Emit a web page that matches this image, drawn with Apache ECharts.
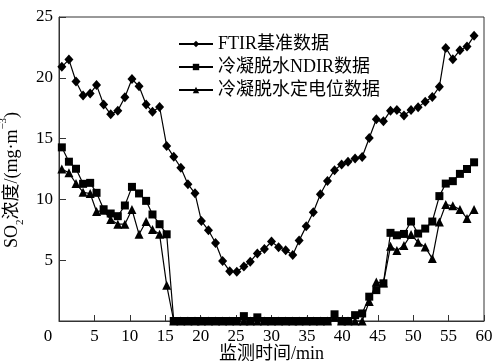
<!DOCTYPE html>
<html>
<head>
<meta charset="utf-8">
<script src="https://cdn.jsdelivr.net/npm/echarts@6/dist/echarts.min.js"></script>
<style>
  html, body { margin: 0; padding: 0; background: #fff; }
  #main { width: 497px; height: 364px; }
</style>
</head>
<body>
<div id="main"></div>
<script>
// sampling times (min)
var times = [0.4, 1.4, 2.4, 3.4, 4.4, 5.3, 6.3, 7.3, 8.3, 9.3,
  10.3, 11.3, 12.3, 13.2, 14.2, 15.2, 16.2, 17.2, 18.2, 19.2,
  20.1, 21.1, 22.1, 23.1, 24.1, 25.1, 26.1, 27.0, 28.0, 29.0,
  30.0, 31.0, 32.0, 33.0, 33.9, 34.9, 35.9, 36.9, 37.9, 38.9,
  39.9, 40.8, 41.8, 42.8, 43.8, 44.8, 45.8, 46.8, 47.7, 48.7,
  49.7, 50.7, 51.7, 52.7, 53.7, 54.6, 55.6, 56.6, 57.6, 58.6];

var ftir = [20.9, 21.5, 19.7, 18.55, 18.7, 19.4, 17.8, 17.0, 17.3, 18.4,
  19.9, 19.3, 17.8, 17.2, 17.6, 14.4, 13.5, 12.6, 11.25, 10.5,
  8.23, 7.46, 6.41, 4.93, 4.1, 4.05, 4.49, 4.88, 5.56, 5.92,
  6.53, 6.06, 5.81, 5.42, 6.61, 7.79, 8.94, 10.43, 11.52, 12.4,
  12.88, 13.09, 13.37, 13.48, 15.05, 16.59, 16.42, 17.3, 17.35, 16.9,
  17.35, 17.57, 18.04, 18.42, 19.27, 22.46, 21.53, 22.27, 22.57, 23.45];

var ndir = [14.28, 13.1, 12.52, 11.28, 11.36, 10.54, 9.19, 8.84, 8.62, 9.5,
  11.03, 10.49, 9.88, 8.76, 7.96, 7.13, 0, 0, 0, 0,
  0, 0, 0, 0, 0, 0, 0.4, 0, 0.3, 0,
  0, 0, 0, 0, 0, 0, 0, 0, 0, 0.55,
  0, 0, 0.48, 0.62, 2.0, 2.54, 3.1, 7.25, 7.05, 7.16,
  8.18, 7.19, 7.6, 8.18, 10.27, 11.3, 11.5, 12.1, 12.5, 13.05];

var dianwei = [12.49, 12.19, 11.31, 10.59, 10.48, 9.0, 9.1, 8.34, 7.96, 7.96,
  9.17, 7.13, 8.18, 7.52, 7.13, 2.95, 0, 0, 0, 0,
  0, 0, 0, 0, 0, 0, 0, 0, 0, 0,
  0, 0, 0, 0, 0, 0, 0, 0, 0, 0.3,
  0, 0, 0, 0, 1.61, 3.2, 3.12, 6.14, 5.79, 6.2,
  7.11, 6.47, 6.08, 5.13, 8.15, 9.58, 9.47, 9.17, 8.43, 9.17];

var names = ['FTIR基准数据', '冷凝脱水NDIR数据', '冷凝脱水定电位数据'];

function pairs(ys) {
  return ys.map(function (y, i) { return [times[i], y]; });
}

var font = "'Liberation Serif', 'Noto Sans CJK SC', serif";

var myChart = echarts.init(document.getElementById('main'));
myChart.setOption({
  animation: false,
  backgroundColor: '#fff',
  textStyle: { fontFamily: font, color: '#000' },
  grid: {
    left: 59, right: 13, top: 17, bottom: 43,
    show: true, borderColor: '#333', borderWidth: 1,
    outerBoundsMode: 'none'
  },
  legend: {
    orient: 'vertical',
    left: 173,
    top: 30,
    itemWidth: 34,
    itemHeight: 8,
    itemGap: 5,
    textStyle: { fontFamily: font, fontSize: 18, color: '#000' },
    data: names
  },
  xAxis: {
    type: 'value',
    min: 0, max: 60, interval: 5,
    name: '监测时间/min',
    nameLocation: 'middle',
    nameGap: 24,
    nameMoveOverlap: false,
    nameTextStyle: { fontFamily: font, fontSize: 18, color: '#000', lineHeight: 18 },
    axisLine: { lineStyle: { color: '#333', width: 1 } },
    axisTick: { inside: true, length: 6, lineStyle: { color: '#333' } },
    splitLine: { show: false },
    axisLabel: {
      margin: 7,
      fontFamily: font, fontSize: 17, color: '#000',
      formatter: function (v) { return v === 0 ? '{z|0}' : String(v); },
      rich: { z: { fontFamily: font, fontSize: 17, color: '#000', padding: [0, 22, 0, 0] } }
    }
  },
  yAxis: {
    type: 'value',
    min: 0, max: 25, interval: 5,
    name: '{a|SO}{s|2}{a|浓度/(mg·m}{p|−3}{a|)}',
    nameLocation: 'middle',
    nameGap: 33,
    nameMoveOverlap: false,
    nameRotate: 90,
    nameTextStyle: {
      fontFamily: font, fontSize: 18, color: '#000',
      padding: [0, 22, 0, 0],
      rich: {
        a: { fontFamily: font, fontSize: 18, color: '#000', lineHeight: 22 },
        s: { fontFamily: font, fontSize: 11, color: '#000', verticalAlign: 'bottom', lineHeight: 16 },
        p: { fontFamily: font, fontSize: 11, color: '#000', verticalAlign: 'top', lineHeight: 28 }
      }
    },
    axisLine: { lineStyle: { color: '#333', width: 1 } },
    axisTick: { inside: true, length: 7, lineStyle: { color: '#333' } },
    splitLine: { show: false },
    axisLabel: { margin: 6, showMinLabel: false, fontFamily: font, fontSize: 17, color: '#000' }
  },
  series: [{
    name: names[0],
    type: 'line',
    symbol: 'diamond',
    symbolSize: [9, 10],
    showAllSymbol: true,
    color: '#000',
    lineStyle: { color: '#000', width: 1.2 },
    itemStyle: { color: '#000' },
    data: pairs(ftir)
  }, {
    name: names[1],
    type: 'line',
    symbol: 'rect',
    symbolSize: 8,
    showAllSymbol: true,
    color: '#000',
    lineStyle: { color: '#000', width: 1.2 },
    itemStyle: { color: '#000' },
    data: pairs(ndir)
  }, {
    name: names[2],
    type: 'line',
    symbol: 'triangle',
    symbolSize: 9,
    showAllSymbol: true,
    color: '#000',
    lineStyle: { color: '#000', width: 1.2 },
    itemStyle: { color: '#000' },
    data: pairs(dianwei)
  }]
});
</script>
</body>
</html>
